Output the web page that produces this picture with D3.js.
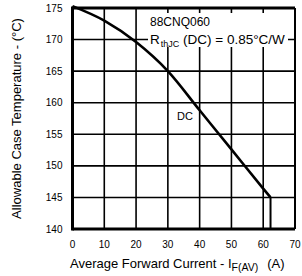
<!DOCTYPE html>
<html>
<head>
<meta charset="utf-8">
<script src="https://cdn.jsdelivr.net/npm/d3@7"></script>
<style>
  body { margin: 0; background: #fff; }
  svg { display: block; font-family: "Liberation Sans", Arial, sans-serif; }
</style>
</head>
<body>
<div id="chart"></div>
<script>
"use strict";

// data
var current = [0, 10, 20, 30, 40, 50, 60, 62.3];
var temp = [175.3, 173.0, 169.6, 165.0, 158.8, 152.6, 146.4, 145.0];
var xTicks = [0, 10, 20, 30, 40, 50, 60, 70];
var yTicks = [140, 145, 150, 155, 160, 165, 170, 175];
var partNo = "88CNQ060";

var W = 302, H = 276;
var m = { left: 72.5, right: 7, top: 8, bottom: 47 };

var svg = d3.select("#chart").append("svg")
    .attr("width", W)
    .attr("height", H);

var x = d3.scaleLinear().domain([0, 70]).range([m.left, W - m.right]);
var y = d3.scaleLinear().domain([140, 175]).range([H - m.bottom, m.top]);

// grid
svg.append("g").selectAll("line")
    .data(xTicks.slice(1, -1))
    .join("line")
    .attr("x1", d => x(d)).attr("x2", d => x(d))
    .attr("y1", y(140)).attr("y2", y(175))
    .attr("stroke", "#000").attr("stroke-width", 1.6);

svg.append("g").selectAll("line")
    .data(yTicks.slice(1, -1))
    .join("line")
    .attr("x1", x(0)).attr("x2", x(70))
    .attr("y1", d => y(d)).attr("y2", d => y(d))
    .attr("stroke", "#000").attr("stroke-width", 1.6);

// label boxes hide the grid behind the text
svg.append("rect")
    .attr("x", 148).attr("y", 13).attr("width", 140).attr("height", 34)
    .attr("fill", "#fff");
svg.append("rect")
    .attr("x", 176).attr("y", 108).attr("width", 18).attr("height", 14)
    .attr("fill", "#fff");

// curve
var line = d3.line()
    .x((d, i) => x(current[i]))
    .y(d => y(d))
    .curve(d3.curveMonotoneX);

svg.append("path")
    .datum(temp)
    .attr("d", line)
    .attr("fill", "none")
    .attr("stroke", "#000")
    .attr("stroke-width", 2.6);

var last = current.length - 1;
svg.append("line")
    .attr("x1", x(current[last])).attr("x2", x(current[last]))
    .attr("y1", y(temp[last])).attr("y2", y(140))
    .attr("stroke", "#000").attr("stroke-width", 2);

// frame
svg.append("line")
    .attr("x1", x(0)).attr("x2", x(0)).attr("y1", y(175) - 1.5).attr("y2", y(140) + 1.5)
    .attr("stroke", "#000").attr("stroke-width", 3);
svg.append("line")
    .attr("x1", x(0)).attr("x2", x(70)).attr("y1", y(175)).attr("y2", y(175))
    .attr("stroke", "#000").attr("stroke-width", 3);
svg.append("line")
    .attr("x1", x(0)).attr("x2", x(70)).attr("y1", y(140)).attr("y2", y(140))
    .attr("stroke", "#000").attr("stroke-width", 3);
svg.append("line")
    .attr("x1", x(70)).attr("x2", x(70)).attr("y1", y(175)).attr("y2", y(140))
    .attr("stroke", "#000").attr("stroke-width", 2);

// tick labels
svg.append("g").selectAll("text")
    .data(yTicks)
    .join("text")
    .attr("x", x(0) - 10)
    .attr("y", d => y(d) + 3.5)
    .attr("text-anchor", "end")
    .attr("font-size", 10)
    .text(d => d);

svg.append("g").selectAll("text")
    .data(xTicks)
    .join("text")
    .attr("x", d => x(d))
    .attr("y", H - m.bottom + 19)
    .attr("text-anchor", "middle")
    .attr("font-size", 10)
    .text(d => d);

// axis titles
svg.append("text")
    .attr("transform", "translate(21," + ((y(140) + y(175)) / 2) + ") rotate(-90)")
    .attr("text-anchor", "middle")
    .attr("font-size", 13)
    .text("Allowable Case Temperature - (°C)");

var xt = svg.append("text")
    .attr("x", 70)
    .attr("y", 268)
    .attr("font-size", 13);
xt.append("tspan").text("Average Forward Current - I");
xt.append("tspan").attr("font-size", 10.5).attr("dy", 3).text("F(AV)");
xt.append("tspan").attr("dy", -3).attr("dx", 9).text("(A)");

// annotations
svg.append("text")
    .attr("x", 150).attr("y", 26)
    .attr("font-size", 12)
    .text(partNo);

var rt = svg.append("text")
    .attr("x", 150).attr("y", 44)
    .attr("font-size", 13.5);
rt.append("tspan").text("R");
rt.append("tspan").attr("font-size", 9).attr("dy", 3).attr("dx", 1).text("thJC");
rt.append("tspan").attr("dy", -3).text(" (DC) = 0.85°C/W");

svg.append("text")
    .attr("x", 185).attr("y", 120)
    .attr("text-anchor", "middle")
    .attr("font-size", 11)
    .text("DC");
</script>
</body>
</html>
